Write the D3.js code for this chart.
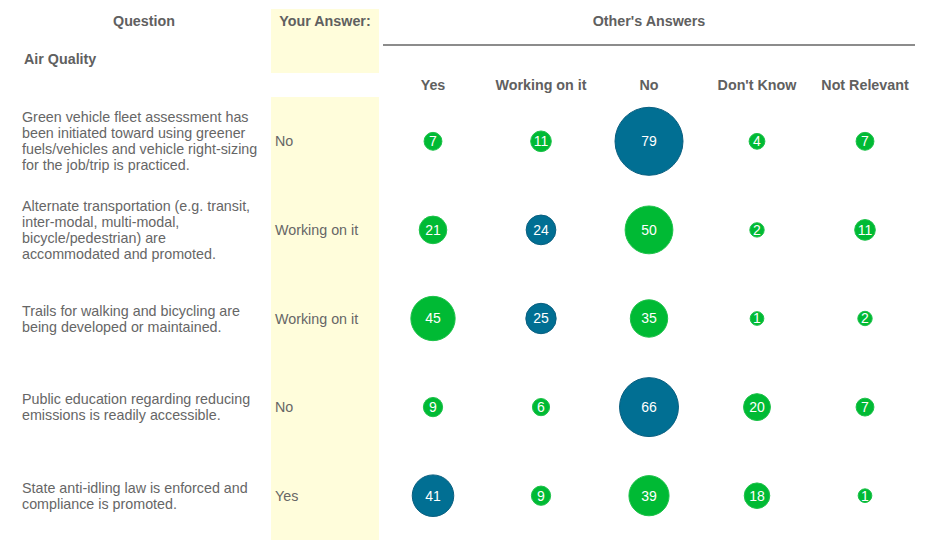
<!DOCTYPE html>
<html>
<head>
<meta charset="utf-8">
<script src="https://cdn.jsdelivr.net/npm/d3@7"></script>
<style>
  body { margin: 0; background: #fff; font-family: "Liberation Sans", Arial, sans-serif; }
  .hdr { font-weight: bold; font-size: 14.3px; fill: #606060; }
  .q { font-size: 14.3px; fill: #666; }
  .lbl { font-size: 14px; fill: #fff; }
</style>
</head>
<body>
<svg id="chart" width="928" height="545"></svg>
<script>
const
  WIDTH = 928,
  HEIGHT = 545,
  LINE_HEIGHT = 16;

const section = 'Air Quality';

const categories = ['Yes', 'Working on it', 'No', "Don't Know", 'Not Relevant'];

const questions = [
  ['Green vehicle fleet assessment has', 'been initiated toward using greener', 'fuels/vehicles and vehicle right-sizing', 'for the job/trip is practiced.'],
  ['Alternate transportation (e.g. transit,', 'inter-modal, multi-modal,', 'bicycle/pedestrian) are', 'accommodated and promoted.'],
  ['Trails for walking and bicycling are', 'being developed or maintained.'],
  ['Public education regarding reducing', 'emissions is readily accessible.'],
  ['State anti-idling law is enforced and', 'compliance is promoted.']
];

const yourAnswers = ['No', 'Working on it', 'Working on it', 'No', 'Yes'];

// others' answers, one array per category, in question order
const yesCounts         = [7, 21, 45, 9, 41];
const workingCounts     = [11, 24, 25, 6, 9];
const noCounts          = [79, 50, 35, 66, 39];
const dontKnowCounts    = [4, 2, 1, 20, 18];
const notRelevantCounts = [7, 11, 2, 7, 1];

const counts = [yesCounts, workingCounts, noCounts, dontKnowCounts, notRelevantCounts];

const svg = d3.select('#chart');

const rowIds = questions.map((q, i) => i);

const xScale = d3.scaleBand()
  .domain(categories)
  .range([379, 919]);

const yScale = d3.scaleBand()
  .domain(rowIds)
  .range([97, 540]);

const rScale = d3.scaleLinear()
  .domain([0, d3.max(counts.flat())])
  .range([6.5, 34]);

// yellow "your answer" column
svg.append('rect')
  .attr('x', 271).attr('y', 9)
  .attr('width', 108).attr('height', 64)
  .attr('fill', '#fffddb');

svg.append('rect')
  .attr('x', 271).attr('y', yScale.range()[0])
  .attr('width', 108).attr('height', yScale.range()[1] - yScale.range()[0])
  .attr('fill', '#fffddb');

// headers
svg.append('text').attr('class', 'hdr')
  .attr('x', 144).attr('y', 21).attr('dy', '0.35em')
  .attr('text-anchor', 'middle').text('Question');

svg.append('text').attr('class', 'hdr')
  .attr('x', 325).attr('y', 21).attr('dy', '0.35em')
  .attr('text-anchor', 'middle').text('Your Answer:');

svg.append('text').attr('class', 'hdr')
  .attr('x', 649).attr('y', 21).attr('dy', '0.35em')
  .attr('text-anchor', 'middle').text("Other's Answers");

svg.append('line')
  .attr('x1', 383).attr('x2', 915)
  .attr('y1', 45).attr('y2', 45)
  .attr('stroke', '#666').attr('stroke-width', 1.5);

svg.append('text').attr('class', 'hdr')
  .attr('x', 24).attr('y', 59).attr('dy', '0.35em')
  .text(section);

// column headers from the x scale
const xAxis = d3.axisTop(xScale).tickSize(0).tickPadding(0);
const xAxisGroup = svg.append('g')
  .attr('class', 'axis axis-x')
  .attr('transform', 'translate(0,85)')
  .attr('font-family', null)
  .attr('font-size', null)
  .call(xAxis);
xAxisGroup.select('.domain').remove();
xAxisGroup.selectAll('text')
  .attr('class', 'hdr')
  .attr('y', 0)
  .attr('dy', '0.35em')
  .attr('fill', null);

// rows
const rows = svg.selectAll('.row')
  .data(rowIds)
  .enter()
  .append('g')
  .attr('class', 'row')
  .attr('transform', (i) => `translate(0,${yScale(i) + yScale.bandwidth() / 2})`);

rows.append('text')
  .attr('class', 'q')
  .attr('x', 22)
  .selectAll('tspan')
  .data((i) => questions[i].map((line, k) => ({ line, k, n: questions[i].length })))
  .enter()
  .append('tspan')
  .attr('x', 22)
  .attr('y', (d) => (d.k - (d.n - 1) / 2) * LINE_HEIGHT)
  .attr('dy', '0.35em')
  .text((d) => d.line);

rows.append('text')
  .attr('class', 'q')
  .attr('x', 275)
  .attr('dy', '0.35em')
  .text((i) => yourAnswers[i]);

const bubbles = rows.selectAll('.bubble')
  .data((i) => categories.map((c, j) => ({ cat: c, value: counts[j][i], mine: yourAnswers[i] === c })))
  .enter()
  .append('g')
  .attr('class', 'bubble')
  .attr('transform', (d) => `translate(${xScale(d.cat) + xScale.bandwidth() / 2},0)`);

bubbles.append('circle')
  .attr('r', (d) => rScale(d.value))
  .attr('fill', (d) => d.mine ? '#016f93' : '#00ba34')
  .attr('stroke', (d) => d.mine ? '#0a5f80' : '#1ec24a')
  .attr('stroke-width', 1);

bubbles.append('text')
  .attr('class', 'lbl')
  .attr('text-anchor', 'middle')
  .attr('dy', '0.35em')
  .text((d) => d.value);
</script>
</body>
</html>
